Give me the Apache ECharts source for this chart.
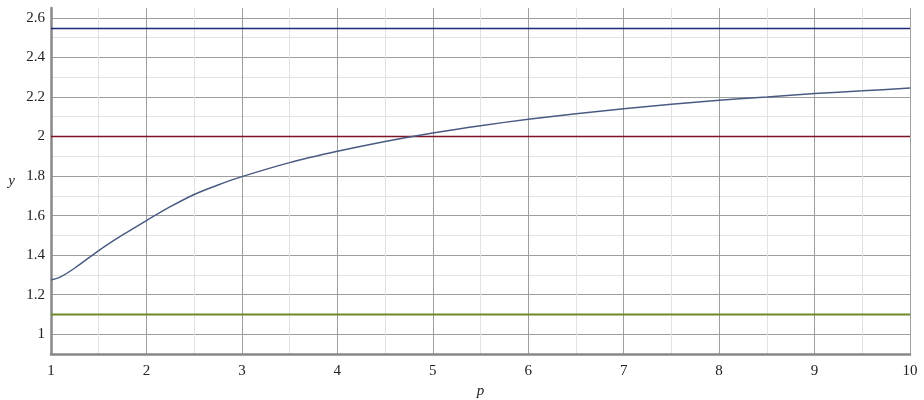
<!DOCTYPE html>
<html>
<head>
<meta charset="utf-8">
<script src="https://cdn.jsdelivr.net/npm/echarts@6/dist/echarts.min.js"></script>
<style>
    html, body { margin: 0; padding: 0; background: #fff; }
    #chart { width: 924px; height: 400px; }
</style>
</head>
<body>
<div id="chart"></div>
<script>
// values
var pValues = [1, 1.1, 1.25, 1.5, 1.75, 2, 2.25, 2.5, 2.75, 3, 3.5, 4, 4.5, 5, 5.5, 6, 6.5, 7, 7.5, 8, 8.5, 9, 9.5, 10];
var yValues = [1.274, 1.29, 1.335, 1.423, 1.502, 1.575, 1.645, 1.707, 1.755, 1.797, 1.868, 1.925, 1.975, 2.018, 2.055, 2.087, 2.115, 2.14, 2.163, 2.183, 2.2, 2.217, 2.231, 2.245];
var upperLevel = 2.546;
var middleLevel = 2;
var lowerLevel = 1.1;
var pRange = [1, 10];
var yRange = [0.9, 2.65];

function makeCurve(xs, ys) {
    var out = [];
    for (var i = 0; i < xs.length; i++) {
        out.push([xs[i], ys[i]]);
    }
    return out;
}

function flatLine(level) {
    return [[pRange[0], level], [pRange[1], level]];
}

var serif = "Liberation Serif";

var chart = echarts.init(document.getElementById("chart"));
var option = {
    animation: false,
    grid: { left: 51, right: 14, top: 8, bottom: 46, outerBoundsMode: "none", containLabel: false },
    xAxis: {
        type: "value",
        min: pRange[0],
        max: pRange[1],
        interval: 1,
        name: "p",
        nameLocation: "middle",
        nameGap: 28,
        nameTextStyle: { fontFamily: serif, fontSize: 15, color: "#222", fontStyle: "italic" },
        axisLine: { lineStyle: { color: "#888", width: 2.5 } },
        axisTick: { show: false },
        axisLabel: { fontFamily: serif, fontSize: 15, color: "#222", margin: 10 },
        splitLine: { show: true, showMinLine: false, lineStyle: { color: "#9e9e9e", width: 1 } },
        minorTick: { show: false, splitNumber: 2 },
        minorSplitLine: { show: true, lineStyle: { color: "#e2e2e2", width: 1 } }
    },
    yAxis: {
        type: "value",
        min: yRange[0],
        max: yRange[1],
        interval: 0.1,
        name: "y",
        nameLocation: "middle",
        nameRotate: 0,
        nameGap: 36,
        nameTextStyle: { fontFamily: serif, fontSize: 15, color: "#222", fontStyle: "italic" },
        axisLine: { show: true, lineStyle: { color: "#888", width: 2.5 } },
        axisTick: { show: false },
        axisLabel: {
            fontFamily: serif,
            fontSize: 15,
            color: "#222",
            margin: 6,
            formatter: function(v) {
                var t = Math.round(v * 10);
                if (Math.abs(v * 10 - t) > 1e-6 || t % 2 !== 0 || t < 10 || t > 26) return "";
                return String(t / 10);
            }
        },
        splitLine: {
            show: true,
            showMinLine: false,
            showMaxLine: false,
            lineStyle: { color: ["#9e9e9e", "#e2e2e2"], width: 1 }
        }
    },
    series: [
        {
            type: "line",
            data: flatLine(upperLevel),
            symbol: "none",
            lineStyle: { color: "#1c2a78", width: 1.5 }
        },
        {
            type: "line",
            data: flatLine(middleLevel),
            symbol: "none",
            lineStyle: { color: "#7d1426", width: 1.5 }
        },
        {
            type: "line",
            data: flatLine(lowerLevel),
            symbol: "none",
            lineStyle: { color: "#6f8a2c", width: 2 }
        },
        {
            type: "line",
            data: makeCurve(pValues, yValues),
            symbol: "none",
            smooth: 0.3,
            lineStyle: { color: "#4a5a82", width: 1.5 }
        }
    ]
};
chart.setOption(option);
</script>
</body>
</html>
